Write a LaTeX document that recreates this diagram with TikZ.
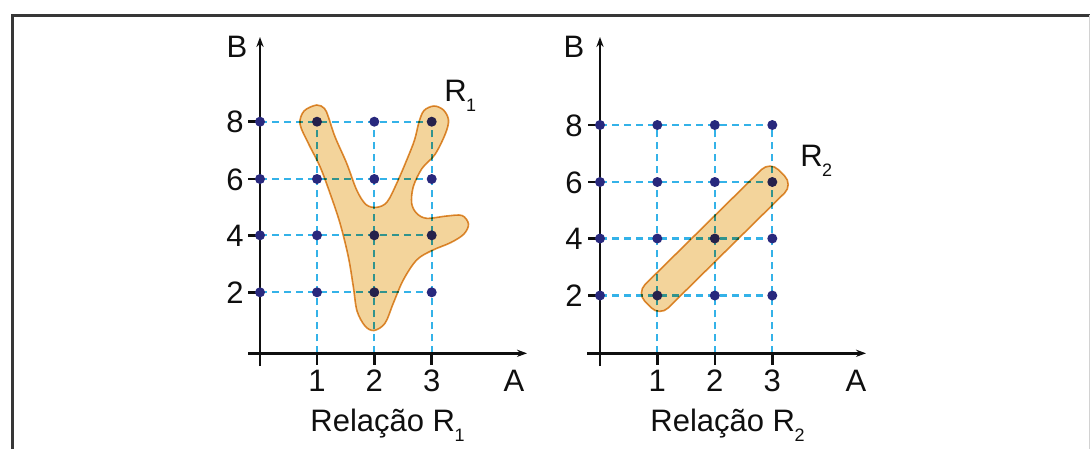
\documentclass[tikz,border=0pt]{standalone}
\usepackage{fontspec}
\setmainfont{Liberation Sans}
\usetikzlibrary{arrows.meta}
\definecolor{gridc}{RGB}{52,178,232}
\definecolor{dotc}{RGB}{40,40,125}
\definecolor{blobf}{RGB}{243,212,155}
\definecolor{blobd}{RGB}{224,146,55}
\definecolor{framec}{RGB}{55,55,55}
\definecolor{axc}{RGB}{15,15,15}
\newcommand\sbx[1]{\kern-0.02em\raisebox{-0.34em}{\fontsize{9pt}{9pt}\selectfont #1}}
\begin{document}
\begin{tikzpicture}[x=0.5pt,y=-0.5pt,
  every node/.style={font=\fontsize{15.5pt}{18pt}\selectfont, inner sep=0pt, text=axc},
  axisline/.style={draw=axc, line width=1.3pt},
  axarrow/.style={-{Stealth[length=5pt,width=3.6pt]}},
  gridline/.style={draw=gridc, line width=1.15pt, dash pattern=on 3.6pt off 2.4pt},
  dotnode/.style={circle, fill=dotc, minimum size=5pt, inner sep=0pt},
  blob/.style={fill=blobf, draw=blobd, line width=0.8pt, blend mode=multiply},
  framel/.style={draw=framec, line width=1.8pt}]
\useasboundingbox (0,0) rectangle (1090,449);
% frame
\coordinate (F1) at (12.5,449);
\coordinate (F2) at (12.5,15.5);
\coordinate (F3) at (1090,15.5);
\draw[framel] (F1) -- (F2) -- (F3);
\coordinate (F4) at (1089,15.5);
\coordinate (F5) at (1089,449);
\draw[gray!35, line width=0.5pt] (F4) -- (F5);

% ---------------- left chart ----------------
\foreach \i/\x in {0/260,1/317,2/374.3,3/431.7}{
  \foreach \j/\y in {2/292.3,4/235.3,6/179,8/121.7}{
    \coordinate (L\i\j) at (\x,\y);
  }
  \coordinate (LB\i) at (\x,353.3);
}
\foreach \j in {2,4,6,8} \draw[gridline] (L0\j) -- (L3\j);
\foreach \i in {1,2,3} \draw[gridline] (LB\i) -- (L\i8);
\coordinate (LXs) at (248,353.3);
\coordinate (LXe) at (527,353.3);
\coordinate (LYs) at (260,366);
\coordinate (LYe) at (260,37);
\draw[axisline, axarrow] (LXs) -- (LXe);
\draw[axisline, axarrow] (LYs) -- (LYe);
\foreach \j in {2,4,6,8} \draw[axisline] (L0\j) -- ++(-12,0);
\foreach \i in {1,2,3} \draw[axisline] (LB\i) -- ++(0,12);
\foreach \i in {0,1,2,3}{\foreach \j in {2,4,6,8}{\node[dotnode] (dL\i\j) at (L\i\j) {};}}
\foreach \j/\y in {2/292.3,4/235.3,6/179,8/121.7} \node[anchor=base east] (lyL\j) at (244,\y+11) {\j};
\foreach \i/\x in {1/317,2/374.3,3/431.7} \node[anchor=base] (lxL\i) at (\x,391) {\i};
\node[anchor=base] (AL) at (514,391) {A};
\node[anchor=base] (BL) at (237,57.5) {B};
\node[anchor=base west] (R1) at (444,101) {R\sbx{1}};
\node[anchor=base west] (capL) at (310,431) {Relação R\sbx{1}};
\draw[blob] plot[smooth cycle, tension=0.55] coordinates {
 (316.7,105) (304,111) (300,124) (308.3,143.3) (320,166.7) (330,193.3)
 (340,223.3) (348.3,256.7) (353.3,286.7) (357,311) (365,326) (374,330.5)
 (385,323.3) (393.3,303.3) (403.3,280) (416.7,260) (432,250.5) (451,242.5)
 (464,234) (468.5,224) (462,215.5) (446.7,216) (426.7,218.3) (416.7,213.3)
 (411.7,203.3) (413.3,186.7) (422,168.5) (435,154.5) (445.5,133.5) (448.5,120)
 (443.5,110) (434,106) (424,110.5) (419,122) (414.5,140) (406.7,160)
 (396.7,183.3) (387,202) (376.7,207.3) (366,204.5) (356.7,190) (346.7,163.3)
 (335,136.7) (328.3,116.7) (324.5,108.5)};

% ---------------- right chart ----------------
\foreach \i/\x in {0/600,1/657.3,2/714.8,3/772.3}{
  \foreach \j/\y in {2/295.5,4/238.5,6/182,8/125}{
    \coordinate (R\i\j) at (\x,\y);
  }
  \coordinate (RB\i) at (\x,353.3);
}
\foreach \j in {2,4,6,8} \draw[gridline] (R0\j) -- (R3\j);
\foreach \i in {1,2,3} \draw[gridline] (RB\i) -- (R\i8);
\coordinate (RXs) at (587,353.3);
\coordinate (RXe) at (866,353.3);
\coordinate (RYs) at (600,366);
\coordinate (RYe) at (600,37);
\draw[axisline, axarrow] (RXs) -- (RXe);
\draw[axisline, axarrow] (RYs) -- (RYe);
\foreach \j in {2,4,6,8} \draw[axisline] (R0\j) -- ++(-12,0);
\foreach \i in {1,2,3} \draw[axisline] (RB\i) -- ++(0,12);
\foreach \i in {0,1,2,3}{\foreach \j in {2,4,6,8}{\node[dotnode] (dR\i\j) at (R\i\j) {};}}
\foreach \j/\y in {2/295.5,4/238.5,6/182,8/125} \node[anchor=base east] (lyR\j) at (583,\y+11) {\j};
\foreach \i/\x in {1/657.3,2/714.8,3/772.3} \node[anchor=base] (lxR\i) at (\x,391) {\i};
\node[anchor=base] (AR) at (856,391) {A};
\node[anchor=base] (BR) at (574,57.5) {B};
\node[anchor=base west] (R2) at (800,166) {R\sbx{2}};
\node[anchor=base west] (capR) at (650,431) {Relação R\sbx{2}};
\coordinate (CM) at (726.39,250.49);
\coordinate (CP1) at (659.64,316.37);
\coordinate (CP2) at (636.46,292.89);
\coordinate (CP3) at (769.96,161.13);
\coordinate (CP4) at (793.14,184.61);
\draw[blob, rounded corners=6pt] (CM) -- (CP1) -- (CP2) -- (CP3) -- (CP4) -- cycle;
\end{tikzpicture}
\end{document}
